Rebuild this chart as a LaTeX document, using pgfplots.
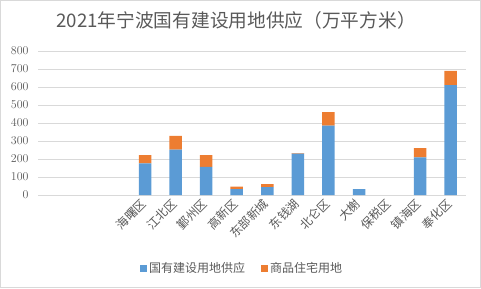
\documentclass[border=0pt]{standalone}
\usepackage{pgfplots}
\pgfplotsset{compat=1.18}
\usepackage{fontspec}
\setmainfont{Carlito}
\newfontfamily\cjk{Noto Sans CJK SC}
\definecolor{cblue}{HTML}{5B9BD5}
\definecolor{corange}{HTML}{ED7D31}
\definecolor{tgray}{HTML}{595959}
\definecolor{ggray}{HTML}{D9D9D9}
\begin{document}
\begin{tikzpicture}[x=1bp,y=1bp]
\useasboundingbox (0,0) rectangle (481,288);
\draw[color=ggray, line width=1bp] (0.5,0.5) rectangle (480.5,287.5);
\begin{axis}[
  at={(38bp,93bp)}, anchor=south west,
  scale only axis, width=428bp, height=144bp,
  ybar stacked, bar width=12.5bp,
  xmin=-0.5, xmax=13.5, ymin=0, ymax=800,
  ytick={0,100,...,800},
  xtick={3,...,13},
  xticklabels={海曙区,江北区,鄞州区,高新区,东部新城,东钱湖,北仑区,大榭,保税区,镇海区,奉化区},
  ymajorgrids, grid style={color=ggray, line width=0.75bp},
  axis line style={draw=none},
  major tick length=0pt,
  tick label style={font=\fontsize{12bp}{14bp}\selectfont, text=tgray},
  yticklabel style={xshift=-6bp},
  xticklabel style={font=\cjk\fontsize{12bp}{14bp}\selectfont, rotate=45, anchor=east, xshift=-2bp, yshift=-4bp},
  legend style={at={(0.477,-0.507)}, anchor=center, draw=none, legend columns=2,
    font=\cjk\fontsize{12bp}{14bp}\selectfont, text=tgray,
    /tikz/every even column/.append style={column sep=14bp}},
  legend image code/.code={\fill[#1] (0bp,-3.5bp) rectangle (7bp,3.5bp);},
]
\addplot[fill=cblue, draw=none] coordinates {(3,176) (4,252) (5,156) (6,33) (7,44) (8,230) (9,385) (10,33) (11,0) (12,209) (13,611)};
\addplot[fill=corange, draw=none] coordinates {(3,46) (4,76) (5,66) (6,13) (7,17) (8,3) (9,76) (10,0) (11,0) (12,52) (13,78)};
\legend{国有建设用地供应,商品住宅用地}
\end{axis}
\node[font=\cjk\fontsize{18.7bp}{22bp}\selectfont, text=tgray] at (236,268) {2021年宁波国有建设用地供应（万平方米）};
\end{tikzpicture}
\end{document}
